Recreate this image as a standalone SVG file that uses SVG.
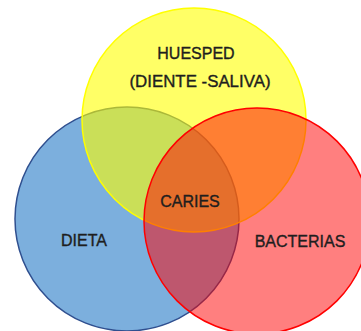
<svg xmlns="http://www.w3.org/2000/svg" width="361" height="331" viewBox="0 0 361 331">
  <style>
    .lbl { font-family: "Liberation Sans", Arial, sans-serif; font-size: 16px; fill: #1e1e1e; stroke: #1e1e1e; stroke-width: 0.35; text-anchor: middle; }
    .c { stroke-width: 1.5; }
  </style>
  <rect width="361" height="331" fill="#ffffff"/>
  <g id="dieta">
    <circle class="c" cx="127" cy="219" r="112" fill="#5B9BD5" fill-opacity="0.8" stroke="#2F4F8F"/>
    <text class="lbl" x="84" y="246">DIETA</text>
  </g>
  <g id="huesped">
    <circle class="c" cx="194" cy="120" r="112" fill="#FFFF00" fill-opacity="0.6" stroke="#FFFF00"/>
    <text class="lbl" x="196" y="59">HUESPED</text>
    <text class="lbl" x="200" y="87" textLength="141" lengthAdjust="spacingAndGlyphs">(DIENTE -SALIVA)</text>
  </g>
  <g id="bacterias">
    <circle class="c" cx="257" cy="221" r="113" fill="#FF0000" fill-opacity="0.5" stroke="#FF0000"/>
    <text class="lbl" x="300" y="247">BACTERIAS</text>
  </g>
  <g id="caries">
    <text class="lbl" x="190" y="207">CARIES</text>
  </g>
</svg>
